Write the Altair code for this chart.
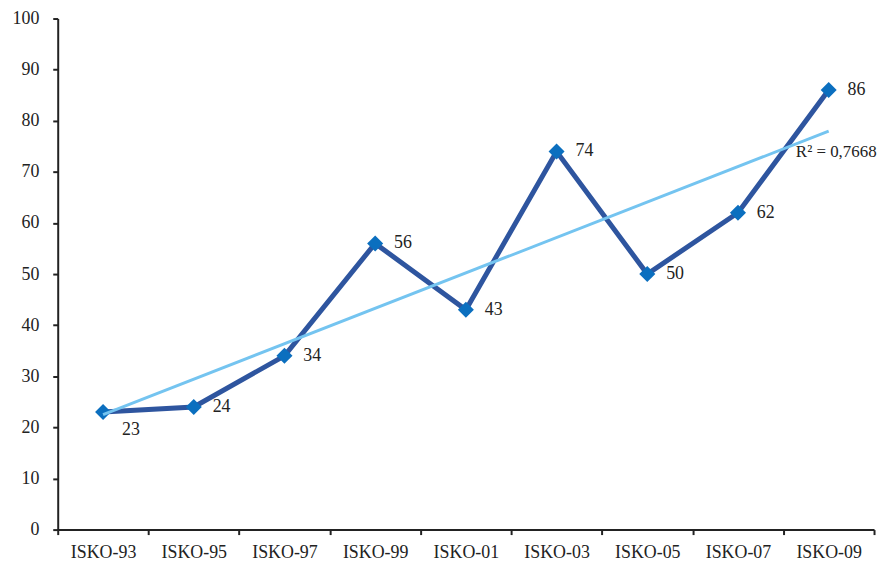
import json
import altair as alt
import pandas as pd

categories = ["ISKO-93", "ISKO-95", "ISKO-97", "ISKO-99", "ISKO-01",
              "ISKO-03", "ISKO-05", "ISKO-07", "ISKO-09"]
values = [23, 24, 34, 56, 43, 74, 50, 62, 86]
label_below = [True, False, False, False, False, False, False, False, False]
r2_text = "R\u00b2 = 0,7668"
r2_cat = "ISKO-09"
r2_value = 73.8

df = pd.DataFrame({
    "cat": categories,
    "value": values,
    "idx": list(range(1, len(categories) + 1)),
    "below": label_below,
})

FONT = "'Liberation Serif', 'Times New Roman', serif"
LINE = "#2E559F"
MARK = "#0B6FBF"
TREND = "#74C4F0"

xscale = alt.Scale(type="band", domain=categories, paddingInner=0, paddingOuter=0)
yscale = alt.Scale(domain=[0, 100], nice=False)

x_enc = alt.X(
    "cat:N", scale=xscale, sort=categories, bandPosition=0.5,
    axis=alt.Axis(title=None, tickBand="extent", labelAngle=0, labelFont=FONT,
                  labelFontSize=18, labelColor="#222", domainColor="#222",
                  domainWidth=2, tickColor="#222", tickWidth=2, tickSize=5,
                  labelPadding=9, grid=False),
)
y_enc = alt.Y(
    "value:Q", scale=yscale,
    axis=alt.Axis(title=None, values=list(range(0, 101, 10)), labelFont=FONT,
                  labelFontSize=18, labelColor="#222", domainColor="#222",
                  domainWidth=2, tickColor="#222", tickWidth=2, tickSize=5,
                  labelPadding=14, grid=False),
)

base = alt.Chart(df)

line = base.mark_line(color=LINE, strokeWidth=5).encode(x=x_enc, y=y_enc)
points = base.mark_point(shape="diamond", filled=True, size=260, color=MARK,
                         opacity=1).encode(x=x_enc, y=y_enc)

cat_expr = json.dumps(categories) + "[round(datum.idx) - 1]"
trend = base.transform_regression("idx", "value", method="linear").transform_calculate(
    cat=cat_expr
).mark_line(color=TREND, strokeWidth=3).encode(x=x_enc, y=y_enc)

labels_right = base.transform_filter("!datum.below").mark_text(
    align="left", baseline="middle", dx=19, font=FONT, fontSize=18, color="#222"
).encode(x=x_enc, y=y_enc, text="value:Q")

labels_below = base.transform_filter("datum.below").mark_text(
    align="left", baseline="middle", dx=19, dy=18, font=FONT, fontSize=18, color="#222"
).encode(x=x_enc, y=y_enc, text="value:Q")

r2_df = pd.DataFrame({"cat": [r2_cat], "value": [r2_value], "text": [r2_text]})
r2 = alt.Chart(r2_df).mark_text(
    align="left", baseline="middle", dx=-33, font=FONT, fontSize=17, color="#222"
).encode(x=x_enc, y=y_enc, text="text:N")

chart = alt.layer(line, points, trend, labels_right, labels_below, r2).properties(
    width=821, height=514,
    padding={"left": 4, "top": 0, "right": 2, "bottom": 2},
).configure_view(stroke=None)

chart.save("out.html", embed_options={"renderer": "svg", "actions": False})
